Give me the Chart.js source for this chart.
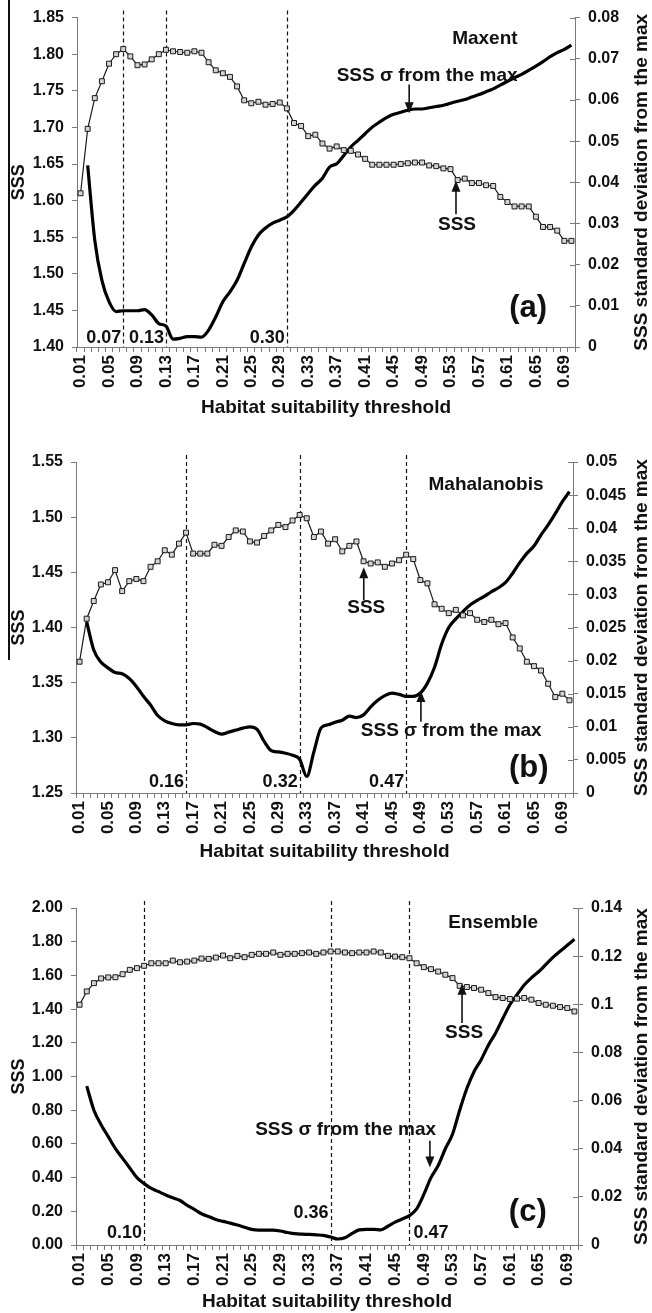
<!DOCTYPE html>
<html>
<head>
<meta charset="utf-8">
<script src="https://cdn.jsdelivr.net/npm/chart.js@4.4.0/dist/chart.umd.min.js"></script>
<style>
  body { margin: 0; background: #fff; width: 652px; height: 1313px; overflow: hidden; position: relative; }
  .panel { position: absolute; left: 0; width: 652px; }
  #edge { position: absolute; left: 8px; top: 0; width: 2px; height: 660px; background: #111; }
</style>
</head>
<body>
<div class="panel" style="top:0;height:430px"><canvas id="chartA" width="652" height="430"></canvas></div>
<div class="panel" style="top:430px;height:440px"><canvas id="chartB" width="652" height="440"></canvas></div>
<div class="panel" style="top:870px;height:443px"><canvas id="chartC" width="652" height="443"></canvas></div>
<div id="edge"></div>
<script>
// Habitat suitability thresholds (x categories)
const thresholds = ['0.01','0.02','0.03','0.04','0.05','0.06','0.07','0.08','0.09','0.10',
  '0.11','0.12','0.13','0.14','0.15','0.16','0.17','0.18','0.19','0.20',
  '0.21','0.22','0.23','0.24','0.25','0.26','0.27','0.28','0.29','0.30',
  '0.31','0.32','0.33','0.34','0.35','0.36','0.37','0.38','0.39','0.40',
  '0.41','0.42','0.43','0.44','0.45','0.46','0.47','0.48','0.49','0.50',
  '0.51','0.52','0.53','0.54','0.55','0.56','0.57','0.58','0.59','0.60',
  '0.61','0.62','0.63','0.64','0.65','0.66','0.67','0.68','0.69','0.70'];

// (a) Maxent
const maxentSSS = [1.610,1.698,1.740,1.763,1.787,1.800,1.807,1.797,1.785,1.786,
  1.793,1.800,1.806,1.804,1.803,1.802,1.804,1.802,1.789,1.778,
  1.774,1.769,1.756,1.737,1.733,1.735,1.731,1.732,1.734,1.726,
  1.706,1.702,1.688,1.690,1.678,1.671,1.674,1.669,1.668,1.663,
  1.657,1.649,1.649,1.649,1.649,1.650,1.651,1.652,1.652,1.648,
  1.647,1.644,1.643,1.628,1.630,1.624,1.624,1.621,1.620,1.605,
  1.598,1.592,1.592,1.592,1.578,1.564,1.564,1.559,1.545,1.545];
const maxentSigma = [null,0.0441,0.0259,0.0162,0.0110,0.0086,0.0088,0.0088,0.0088,0.0091,
  0.0078,0.0057,0.0051,0.0019,0.0021,0.0025,0.0025,0.0024,0.0041,0.0073,
  0.0110,0.0134,0.0162,0.0203,0.0243,0.0272,0.0289,0.0301,0.0308,0.0316,
  0.0332,0.0352,0.0373,0.0393,0.0410,0.0437,0.0445,0.0465,0.0486,0.0502,
  0.0518,0.0534,0.0546,0.0557,0.0565,0.0570,0.0575,0.0578,0.0578,0.0581,
  0.0584,0.0587,0.0592,0.0597,0.0601,0.0607,0.0613,0.0620,0.0627,0.0636,
  0.0645,0.0654,0.0662,0.0672,0.0682,0.0693,0.0705,0.0715,0.0723,0.0733];
const maxentCuts = ['0.07','0.13','0.30'];
const maxentLeftAxis = [1.40, 1.85, 0.05];
const maxentRightAxis = [0, 0.08, 0.01];

// (b) Mahalanobis
const mahalSSS = [1.369,1.408,1.424,1.439,1.441,1.452,1.433,1.442,1.444,1.442,
  1.455,1.460,1.470,1.466,1.476,1.486,1.467,1.467,1.467,1.475,
  1.474,1.482,1.488,1.487,1.478,1.477,1.483,1.488,1.493,1.491,
  1.497,1.502,1.499,1.482,1.487,1.476,1.480,1.469,1.474,1.478,
  1.460,1.458,1.459,1.455,1.458,1.461,1.466,1.462,1.443,1.440,
  1.421,1.417,1.413,1.416,1.411,1.413,1.407,1.405,1.407,1.403,
  1.404,1.391,1.381,1.369,1.365,1.361,1.349,1.337,1.340,1.334];
const mahalSigma = [null,0.0259,0.0216,0.0198,0.0189,0.0182,0.0180,0.0173,0.0161,0.0146,
  0.0133,0.0117,0.0109,0.0105,0.0103,0.0103,0.0105,0.0104,0.0099,0.0093,
  0.0089,0.0092,0.0095,0.0098,0.0100,0.0096,0.0078,0.0064,0.0062,0.0060,
  0.0057,0.0051,0.0025,0.0062,0.0098,0.0103,0.0107,0.0110,0.0116,0.0114,
  0.0118,0.0130,0.0140,0.0147,0.0151,0.0149,0.0146,0.0146,0.0151,0.0166,
  0.0190,0.0225,0.0250,0.0263,0.0274,0.0284,0.0291,0.0297,0.0304,0.0310,
  0.0318,0.0332,0.0348,0.0362,0.0373,0.0390,0.0405,0.0422,0.0440,0.0455];
const mahalCuts = ['0.16','0.32','0.47'];
const mahalLeftAxis = [1.25, 1.55, 0.05];
const mahalRightAxis = [0, 0.05, 0.005];

// (c) Ensemble
const ensembleSSS = [1.426,1.505,1.554,1.582,1.588,1.589,1.607,1.633,1.643,1.657,
  1.672,1.672,1.672,1.688,1.678,1.682,1.688,1.700,1.698,1.706,
  1.718,1.702,1.716,1.708,1.722,1.728,1.728,1.736,1.722,1.728,
  1.728,1.732,1.736,1.728,1.736,1.742,1.742,1.736,1.732,1.736,
  1.736,1.742,1.736,1.716,1.712,1.708,1.702,1.672,1.649,1.637,
  1.623,1.604,1.584,1.538,1.531,1.525,1.515,1.495,1.471,1.466,
  1.460,1.462,1.466,1.456,1.436,1.426,1.420,1.412,1.406,1.386];
const ensembleSigma = [null,0.066,0.056,0.050,0.045,0.040,0.036,0.032,0.028,0.0255,
  0.0235,0.0222,0.0208,0.0196,0.0185,0.0165,0.0148,0.0130,0.0118,0.0106,
  0.0098,0.0091,0.0083,0.0074,0.0065,0.0062,0.0062,0.0062,0.0058,0.0052,
  0.0047,0.0045,0.0044,0.0042,0.0040,0.0033,0.0025,0.0030,0.0048,0.0063,
  0.0065,0.0065,0.0063,0.0078,0.0095,0.0108,0.0122,0.0150,0.0210,0.0280,
  0.0330,0.0400,0.0460,0.0560,0.0650,0.0720,0.0770,0.0830,0.0880,0.0940,
  0.0998,0.1040,0.1080,0.1110,0.1135,0.1165,0.1195,0.1220,0.1245,0.1270];
const ensembleCuts = ['0.10','0.36','0.47'];
const ensembleLeftAxis = [0, 2.0, 0.2];
const ensembleRightAxis = [0, 0.14, 0.02];

const ink = '#111';
const axisGrey = '#7a7a7a';
const fontFamily = '"Liberation Sans", Arial, sans-serif';

Chart.defaults.font.family = fontFamily;
Chart.defaults.font.weight = 'bold';
Chart.defaults.color = ink;

// Layout per panel; annotation spots are fractions of the plot area
const panels = [
  {
    id: 'chartA', sss: maxentSSS, sigma: maxentSigma, cuts: maxentCuts,
    left: maxentLeftAxis, right: maxentRightAxis, leftFmt: 2,
    top: 17, xHeight: 83, leftW: 77, rightW: 77, titlePad: 11,
    name: { text: 'Maxent', fx: 0.819, fy: 0.064 },
    tag: { text: '(a)', fx: 0.906, fy: 0.882 },
    sigmaLabel: { fx: 0.703, fy: 0.176, ax: 0.667, ay1: 0.203, ay2: 0.290 },
    sssLabel: { fx: 0.763, fy: 0.630, ax: 0.761, ay1: 0.597, ay2: 0.495 },
    cutText: [['left', 0.972], ['left', 0.972], ['left', 0.972]]
  },
  {
    id: 'chartB', sss: mahalSSS, sigma: mahalSigma, cuts: mahalCuts,
    left: mahalLeftAxis, right: mahalRightAxis, leftFmt: 2,
    top: 32, xHeight: 77, leftW: 76, rightW: 79, titlePad: 7,
    name: { text: 'Mahalanobis', fx: 0.825, fy: 0.069 },
    tag: { text: '(b)', fx: 0.911, fy: 0.927 },
    sigmaLabel: { fx: 0.755, fy: 0.813, ax: 0.694, ay1: 0.785, ay2: 0.692 },
    sssLabel: { fx: 0.584, fy: 0.441, ax: 0.579, ay1: 0.417, ay2: 0.318 },
    cutText: [['left', 0.968], ['left', 0.968], ['left', 0.968]]
  },
  {
    id: 'chartC', sss: ensembleSSS, sigma: ensembleSigma, cuts: ensembleCuts,
    left: ensembleLeftAxis, right: ensembleRightAxis, leftFmt: 2,
    top: 38, xHeight: 68, leftW: 76, rightW: 74, titlePad: 0,
    name: { text: 'Ensemble', fx: 0.831, fy: 0.045 },
    tag: { text: '(c)', fx: 0.900, fy: 0.902 },
    sigmaLabel: { fx: 0.537, fy: 0.659, ax: 0.705, ay1: 0.691, ay2: 0.770 },
    sssLabel: { fx: 0.773, fy: 0.371, ax: 0.769, ay1: 0.341, ay2: 0.225 },
    cutText: [['left', 0.965], ['left', 0.906], ['right', 0.965]]
  }
];

function drawArrow(ctx, x, y1, y2) {
  const dir = Math.sign(y2 - y1);
  ctx.lineWidth = 1.6;
  ctx.beginPath();
  ctx.moveTo(x, y1);
  ctx.lineTo(x, y2 - dir * 8);
  ctx.stroke();
  ctx.beginPath();
  ctx.moveTo(x, y2);
  ctx.lineTo(x - 4.5, y2 - dir * 11);
  ctx.lineTo(x + 4.5, y2 - dir * 11);
  ctx.closePath();
  ctx.fill();
}

// dashed threshold lines, annotations, right-hand title
const panelDecor = {
  id: 'panelDecor',
  beforeDatasetsDraw(chart, args, opts) {
    const { ctx, chartArea: a, scales: { x } } = chart;
    ctx.save();
    ctx.strokeStyle = ink;
    ctx.lineWidth = 1.2;
    ctx.setLineDash([4, 3]);
    opts.cuts.forEach(c => {
      const px = Math.round(x.getPixelForValue(thresholds.indexOf(c))) + 0.5;
      ctx.beginPath();
      ctx.moveTo(px, a.top - 7);
      ctx.lineTo(px, a.bottom);
      ctx.stroke();
    });
    ctx.restore();
  },
  afterDraw(chart, args, opts) {
    const { ctx, chartArea: a, scales: { x, y2 } } = chart;
    const w = a.right - a.left, h = a.bottom - a.top;
    const px = f => a.left + f * w;
    const py = f => a.top + f * h;
    ctx.save();
    ctx.fillStyle = ink;
    ctx.strokeStyle = ink;
    ctx.textBaseline = 'middle';

    // inner half of the right axis tick marks
    ctx.strokeStyle = axisGrey;
    ctx.lineWidth = 1;
    y2.ticks.forEach((t, i) => {
      const yy = Math.round(y2.getPixelForTick(i)) + 0.5;
      ctx.beginPath();
      ctx.moveTo(y2.left - 5, yy);
      ctx.lineTo(y2.left, yy);
      ctx.stroke();
    });
    ctx.strokeStyle = ink;

    // threshold labels beside the dashed lines
    ctx.font = 'bold 18px ' + fontFamily;
    opts.cuts.forEach((c, i) => {
      const lx = x.getPixelForValue(thresholds.indexOf(c));
      const [side, fy] = opts.cutText[i];
      ctx.textAlign = side === 'left' ? 'right' : 'left';
      ctx.fillText(c, side === 'left' ? lx - 2 : lx + 4, py(fy));
    });

    ctx.textAlign = 'center';
    ctx.font = 'bold 19px ' + fontFamily;
    ctx.fillText(opts.name.text, px(opts.name.fx), py(opts.name.fy));

    const s = opts.sigmaLabel;
    ctx.fillText('SSS σ from the max', px(s.fx), py(s.fy));
    drawArrow(ctx, px(s.ax), py(s.ay1), py(s.ay2));

    const q = opts.sssLabel;
    ctx.fillText('SSS', px(q.fx), py(q.fy));
    drawArrow(ctx, px(q.ax), py(q.ay1), py(q.ay2));

    ctx.font = 'bold 31px ' + fontFamily;
    ctx.fillText(opts.tag.text, px(opts.tag.fx), py(opts.tag.fy));

    // right axis title reads bottom-to-top
    ctx.font = 'bold 19px ' + fontFamily;
    ctx.translate(642, (a.top + a.bottom) / 2);
    ctx.rotate(-Math.PI / 2);
    ctx.fillText('SSS standard deviation from the max', 0, 0);
    ctx.restore();
  }
};

function makePanel(p) {
  const ctx = document.getElementById(p.id).getContext('2d');
  return new Chart(ctx, {
    type: 'line',
    data: {
      labels: thresholds,
      datasets: [
        {
          label: 'SSS',
          data: p.sss,
          yAxisID: 'y',
          borderColor: '#1a1a1a',
          borderWidth: 1.2,
          tension: 0,
          pointStyle: 'rect',
          pointRadius: 3.5,
          pointBackgroundColor: '#d4d4d4',
          pointBorderColor: '#1a1a1a',
          pointBorderWidth: 1
        },
        {
          label: 'SSS σ from the max',
          data: p.sigma,
          yAxisID: 'y2',
          borderColor: '#000',
          borderWidth: 3.2,
          pointRadius: 0,
          cubicInterpolationMode: 'monotone'
        }
      ]
    },
    options: {
      responsive: false,
      animation: false,
      events: [],
      layout: { padding: { top: p.top, left: 0, right: 0, bottom: 0 } },
      plugins: {
        legend: { display: false },
        tooltip: { enabled: false },
        panelDecor: p
      },
      scales: {
        x: {
          offset: true,
          grid: { offset: true, drawOnChartArea: false, tickLength: 5, color: axisGrey },
          border: { color: axisGrey },
          ticks: {
            autoSkip: false, minRotation: 90, maxRotation: 90, padding: 3,
            font: { size: 17, weight: 'bold' }, color: ink,
            callback: (v, i) => i % 4 === 0 ? thresholds[i] : ''
          },
          title: {
            display: true, text: 'Habitat suitability threshold', color: ink,
            font: { size: 19, weight: 'bold', lineHeight: 1.2 },
            padding: { top: 0, bottom: p.titlePad }
          },
          afterFit: s => { s.height = p.xHeight; }
        },
        y: {
          position: 'left',
          min: p.left[0], max: p.left[1],
          grid: { drawOnChartArea: false, tickLength: 5, color: axisGrey },
          border: { color: axisGrey },
          ticks: {
            stepSize: p.left[2], padding: 8, color: ink,
            font: { size: 16, weight: 'bold' },
            callback: v => v.toFixed(p.leftFmt)
          },
          title: {
            display: true, text: 'SSS', color: ink,
            font: { size: 18, weight: 'bold', lineHeight: 1.2 },
            padding: { top: 8, bottom: 0 }
          },
          afterFit: s => { s.width = p.leftW; }
        },
        y2: {
          position: 'right',
          min: p.right[0], max: p.right[1],
          grid: { drawOnChartArea: false, tickLength: 5, color: axisGrey },
          border: { color: axisGrey },
          ticks: {
            stepSize: p.right[2], padding: 8, color: ink,
            font: { size: 16, weight: 'bold' },
            callback: v => String(+v.toFixed(4))
          },
          afterFit: s => { s.width = p.rightW; }
        }
      }
    },
    plugins: [panelDecor]
  });
}

panels.forEach(makePanel);
</script>
</body>
</html>
